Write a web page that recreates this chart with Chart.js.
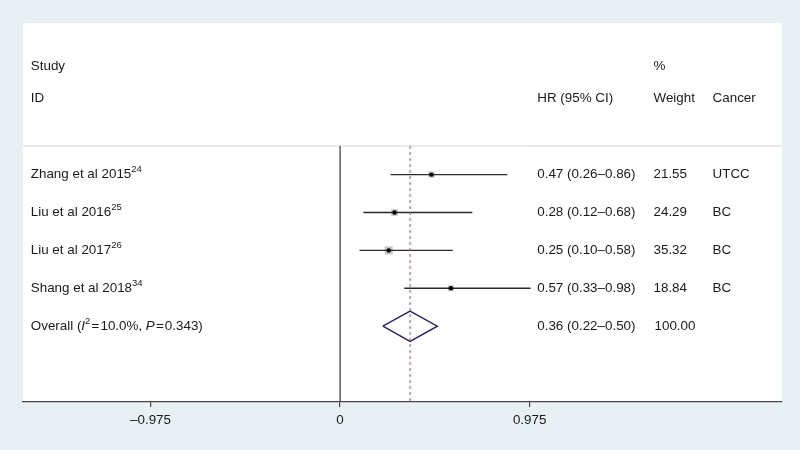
<!DOCTYPE html>
<html>
<head>
<meta charset="utf-8">
<script src="https://cdn.jsdelivr.net/npm/chart.js@4"></script>
<style>
  html, body { margin: 0; padding: 0; background: #e9f0f4; }
  #wrap { width: 800px; height: 450px; }
</style>
</head>
<body>
<div id="wrap"><canvas id="forest" width="800" height="450"></canvas></div>
<script>
// ============================================================
// Data
// ============================================================
const studies = ['Zhang et al 2015', 'Liu et al 2016', 'Liu et al 2017', 'Shang et al 2018'];
const refs    = ['24', '25', '26', '34'];
const hr      = [0.47, 0.28, 0.25, 0.57];
const ciLow   = [0.26, 0.12, 0.10, 0.33];
const ciHigh  = [0.86, 0.68, 0.58, 0.98];
const weights = ['21.55', '24.29', '35.32', '18.84'];
const cancer  = ['UTCC', 'BC', 'BC', 'BC'];
const pooled  = [0.36, 0.22, 0.50];   // estimate, low, high
const pooledWeight = '100.00';
const xTicks  = [-0.975, 0, 0.975];

// ============================================================
// Layout (rows and column positions in axis units)
// ============================================================
const rowY = [6, 5, 4, 3];
const overallY = 2;
const topLineY = 6.755;
const X_MIN = -1.631, X_MAX = 2.273;
const col = { study: -1.591, hr: 1.014, weight: 1.612, cancer: 1.916 };
const FONT = '"Liberation Sans", Arial, sans-serif';
const FS = 13.4;
const TEXT = '#1a1a1a';

// ============================================================
// Datasets
// ============================================================
const ciPts = [];
studies.forEach((s, i) => {
  ciPts.push({ x: ciLow[i], y: rowY[i] }, { x: ciHigh[i], y: rowY[i] }, { x: NaN, y: NaN });
});

const boxSide = weights.map(w => 1.35 * Math.sqrt(parseFloat(w)));
const diamondH = 0.4;

const datasets = [
  { // separator under headers
    type: 'line', order: 8, data: [{ x: X_MIN, y: topLineY }, { x: X_MAX, y: topLineY }],
    borderColor: '#d4d6d8', borderWidth: 1, pointRadius: 0
  },
  { // no-effect line
    type: 'line', order: 7, data: [{ x: 0, y: topLineY }, { x: 0, y: 0 }],
    borderColor: '#444', borderWidth: 1.3, pointRadius: 0
  },
  { // weight boxes
    type: 'scatter', order: 6, data: hr.map((v, i) => ({ x: v, y: rowY[i] })),
    pointStyle: 'rect', pointRadius: boxSide.map(s => s / Math.SQRT2),
    backgroundColor: '#c4c4c4', borderWidth: 0
  },
  { // confidence intervals
    type: 'line', order: 5, data: ciPts, spanGaps: false,
    borderColor: '#2a2a2a', borderWidth: 1.4, pointRadius: 0
  },
  { // pooled diamond
    type: 'line', order: 4,
    data: [
      { x: pooled[1], y: overallY }, { x: pooled[0], y: overallY + diamondH },
      { x: pooled[2], y: overallY }, { x: pooled[0], y: overallY - diamondH },
      { x: pooled[1], y: overallY }
    ],
    borderColor: '#272766', borderWidth: 1.5, pointRadius: 0, fill: false, tension: 0
  },
  { // pooled estimate line
    type: 'line', order: 3, data: [{ x: pooled[0], y: topLineY }, { x: pooled[0], y: 0 }],
    borderColor: '#a4555a', borderWidth: 1, borderDash: [3, 3], pointRadius: 0
  },
  { // point estimates
    type: 'scatter', order: 1, data: hr.map((v, i) => ({ x: v, y: rowY[i] })),
    pointRadius: 2.2, backgroundColor: '#000', borderWidth: 0
  }
];

// ============================================================
// Plugins
// ============================================================
const panelBg = {
  id: 'panelBg',
  beforeDraw(chart) {
    const { ctx, chartArea: a } = chart;
    ctx.save();
    ctx.fillStyle = '#e9f0f4';
    ctx.fillRect(0, 0, chart.width, chart.height);
    ctx.fillStyle = '#ffffff';
    ctx.fillRect(a.left, a.top, a.right - a.left, a.bottom - a.top);
    ctx.restore();
  }
};

function drawRuns(ctx, x, y, runs) {
  let cx = x;
  runs.forEach(r => {
    const size = r.sup ? 9.5 : FS;
    ctx.font = (r.italic ? 'italic ' : '') + size + 'px ' + FONT;
    ctx.fillText(r.t, cx, y - (r.sup ? 5 : 0));
    cx += ctx.measureText(r.t).width;
  });
}

const forestText = {
  id: 'forestText',
  afterDraw(chart) {
    const { ctx, scales: { x, y } } = chart;
    ctx.save();
    ctx.fillStyle = TEXT;
    ctx.textBaseline = 'middle';
    ctx.textAlign = 'left';
    ctx.font = FS + 'px ' + FONT;

    // headers
    ctx.fillText('Study', x.getPixelForValue(col.study), y.getPixelForValue(8.87));
    ctx.fillText('ID', x.getPixelForValue(col.study), y.getPixelForValue(8));
    ctx.fillText('%', x.getPixelForValue(col.weight), y.getPixelForValue(8.87));
    ctx.fillText('HR (95% CI)', x.getPixelForValue(col.hr), y.getPixelForValue(8));
    ctx.fillText('Weight', x.getPixelForValue(col.weight), y.getPixelForValue(8));
    ctx.fillText('Cancer', x.getPixelForValue(col.cancer), y.getPixelForValue(8));

    // study rows
    studies.forEach((s, i) => {
      const py = y.getPixelForValue(rowY[i]);
      drawRuns(ctx, x.getPixelForValue(col.study), py, [{ t: s }, { t: refs[i], sup: true }]);
      ctx.font = FS + 'px ' + FONT;
      ctx.fillText(hr[i].toFixed(2) + ' (' + ciLow[i].toFixed(2) + '\u2013' + ciHigh[i].toFixed(2) + ')',
        x.getPixelForValue(col.hr), py);
      ctx.fillText(weights[i], x.getPixelForValue(col.weight), py);
      ctx.fillText(cancer[i], x.getPixelForValue(col.cancer), py);
    });

    // overall row
    const oy = y.getPixelForValue(overallY);
    drawRuns(ctx, x.getPixelForValue(col.study), oy, [
      { t: 'Overall (' }, { t: 'I', italic: true }, { t: '2', sup: true },
      { t: '\u200A=\u200A10.0%, ' }, { t: 'P', italic: true }, { t: '\u200A=\u200A0.343)' }
    ]);
    ctx.font = FS + 'px ' + FONT;
    ctx.fillText(pooled[0].toFixed(2) + ' (' + pooled[1].toFixed(2) + '\u2013' + pooled[2].toFixed(2) + ')',
      x.getPixelForValue(col.hr), oy);
    ctx.fillText(pooledWeight, x.getPixelForValue(col.weight) + 1, oy);
    ctx.restore();
  }
};

// ============================================================
// Chart
// ============================================================
new Chart(document.getElementById('forest').getContext('2d'), {
  type: 'scatter',
  data: { datasets },
  options: {
    responsive: false,
    animation: false,
    devicePixelRatio: 1,
    layout: { padding: { left: 23, right: 18, top: 23, bottom: 0 } },
    plugins: { legend: { display: false }, tooltip: { enabled: false } },
    scales: {
      x: {
        type: 'linear', min: X_MIN, max: X_MAX,
        afterBuildTicks: s => { s.ticks = xTicks.map(v => ({ value: v })); },
        afterFit: s => { s.height = 48; },
        ticks: {
          color: TEXT, padding: 5,
          font: { family: FONT, size: FS },
          callback: v => (v < 0 ? '\u2013' + Math.abs(v) : String(v))
        },
        grid: { display: true, drawOnChartArea: false, drawTicks: true, tickLength: 5, color: '#444', lineWidth: 1.2 },
        border: { display: true, color: '#444', width: 1.3 }
      },
      y: { type: 'linear', min: 0, max: 10, display: false }
    }
  },
  plugins: [panelBg, forestText]
});
</script>
</body>
</html>
